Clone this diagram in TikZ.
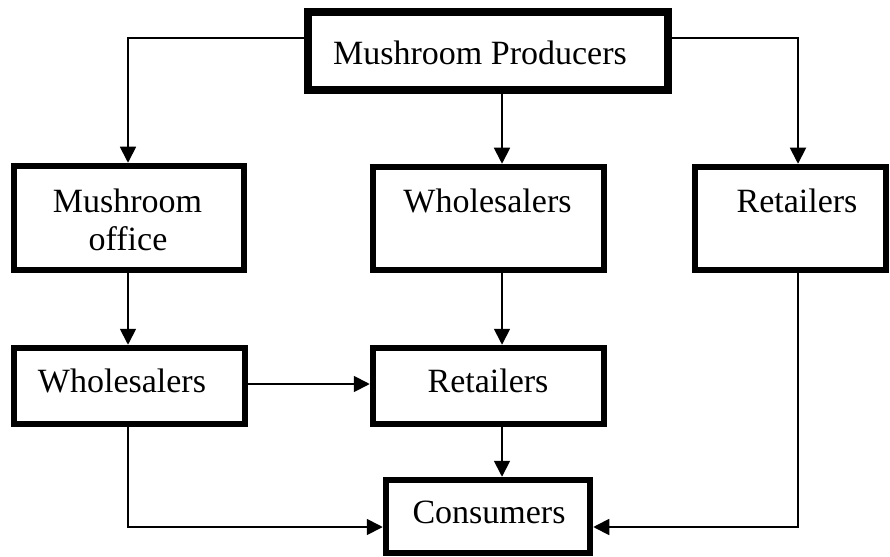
\documentclass[tikz,border=0pt]{standalone}
\usepackage{fontspec}
\setmainfont{Liberation Serif}
\usetikzlibrary{arrows.meta}
\begin{document}
\begin{tikzpicture}[x=1pt,y=-1pt,
  box/.style={draw=black, line width=6.5pt, inner sep=0pt, fill=white},
  bigbox/.style={box, line width=8pt},
  txt/.style={anchor=base, inner sep=0pt, font=\fontsize{34}{40}\selectfont},
  arr/.style={line width=1.8pt, -{Triangle[length=16pt,width=16pt]}}]
\useasboundingbox (0,0) rectangle (890,556);
% boxes
\node[bigbox, minimum width=360pt, minimum height=78pt] (prod) at (488,51) {};
\node[box, minimum width=230pt, minimum height=104pt] (office) at (129,218) {};
\node[box, minimum width=231pt, minimum height=103pt] (wm) at (488.5,218.5) {};
\node[box, minimum width=191pt, minimum height=103pt] (rr) at (790.5,218.5) {};
\node[box, minimum width=231pt, minimum height=76pt] (wl) at (129.5,386) {};
\node[box, minimum width=231pt, minimum height=76pt] (rm) at (488.5,386) {};
\node[box, minimum width=204pt, minimum height=73pt] (cons) at (488,516.5) {};
% texts
\node[txt] (tprod) at (480,65) {Mushroom Producers};
\node[txt] (toff1) at (127.5,212) {Mushroom};
\node[txt] (toff2) at (128,250) {office};
\node[txt] (twm) at (487.5,212) {Wholesalers};
\node[txt] (trr) at (797,212) {Retailers};
\node[txt] (twl) at (122,392) {Wholesalers};
\node[txt] (trm) at (488,392) {Retailers};
\node[txt] (tcons) at (489,523) {Consumers};
% connectors
\coordinate (mx) at (502,0);
\coordinate (lx) at (128,0);
\coordinate (rx) at (798,0);
\draw[arr] ([yshift=13pt]prod.west) -| (lx |- office.north);
\draw[arr] ([yshift=13pt]prod.east) -| (rx |- rr.north);
\draw[arr] (mx |- prod.south) -- (mx |- wm.north);
\draw[arr] (lx |- office.south) -- (lx |- wl.north);
\draw[arr] ([yshift=2pt]wl.east) -- ([yshift=2pt]rm.west);
\draw[arr] (mx |- wm.south) -- (mx |- rm.north);
\draw[arr] (mx |- rm.south) -- (mx |- cons.north);
\draw[arr] (lx |- wl.south) |- ([yshift=-10.5pt]cons.west);
\draw[arr] (rx |- rr.south) |- ([yshift=-10.5pt]cons.east);
\end{tikzpicture}
\end{document}
